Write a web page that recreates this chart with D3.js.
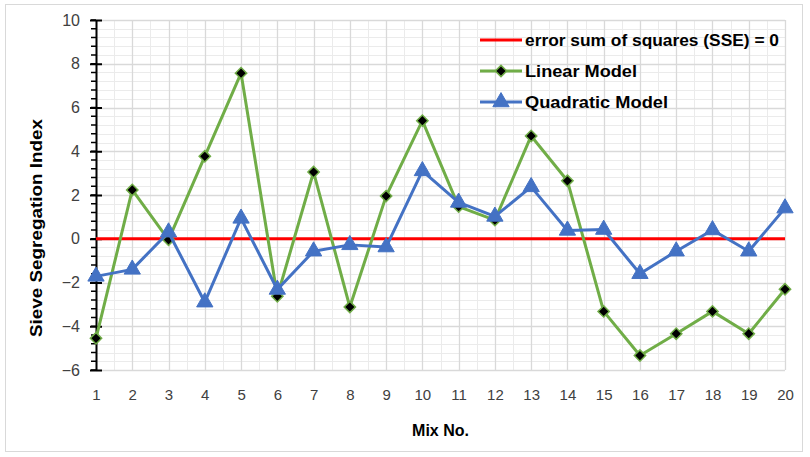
<!DOCTYPE html>
<html>
<head>
<meta charset="utf-8">
<script src="https://cdn.jsdelivr.net/npm/d3@7"></script>
<style>
  html, body { margin: 0; padding: 0; background: #fff; }
  svg { display: block; font-family: "Liberation Sans", Arial, sans-serif; }
</style>
</head>
<body>
<svg id="chart" width="810" height="457"></svg>
<script>
// Mix numbers on the x axis
const mixes = d3.range(1, 21);
// Sieve segregation index errors per mix
const sseValues = mixes.map(() => 0);
const linearValues = [-4.55, 2.23, -0.05, 3.77, 7.57, -2.63, 3.05, -3.12, 1.95, 5.4,
                      1.47, 0.85, 4.7, 2.65, -3.32, -5.34, -4.34, -3.32, -4.34, -2.31];
const quadraticValues = [-1.72, -1.4, 0.3, -2.9, 0.93, -2.32, -0.57, -0.28, -0.38, 3.1,
                         1.66, 1.02, 2.37, 0.38, 0.42, -1.6, -0.57, 0.4, -0.57, 1.4];
const yTicks = [-6, -4, -2, 0, 2, 4, 6, 8, 10];
const seriesNames = ["error sum of squares (SSE) = 0", "Linear Model", "Quadratic Model"];

const svg = d3.select("#chart");
const plotLeft = 96, plotRight = 785, plotTop = 20, plotBottom = 370;

// outer frame
svg.append("rect").attr("x", 5.5).attr("y", 4.5).attr("width", 797).attr("height", 447)
  .attr("fill", "#fff").attr("stroke", "#d9d9d9").attr("stroke-width", 1);

const x = d3.scaleLinear().domain([1, 20]).range([plotLeft, plotRight]);
const y = d3.scaleLinear().domain([-6, 10]).range([plotBottom, plotTop]);

// gridlines: minor first, then major
const grid = svg.append("g");
const minorY = d3.range(-6, 10.001, 0.4).filter(v => Math.abs(v / 2 - Math.round(v / 2)) > 1e-6);
grid.selectAll(".my").data(minorY).join("line")
  .attr("x1", plotLeft).attr("x2", plotRight)
  .attr("y1", d => Math.round(y(d)) + 0.5).attr("y2", d => Math.round(y(d)) + 0.5)
  .attr("stroke", "#ebebeb").attr("stroke-width", 1);
const minorX = d3.range(1.5, 20, 1);
grid.selectAll(".mx").data(minorX).join("line")
  .attr("y1", plotTop).attr("y2", plotBottom)
  .attr("x1", d => Math.round(x(d)) + 0.5).attr("x2", d => Math.round(x(d)) + 0.5)
  .attr("stroke", "#ebebeb").attr("stroke-width", 1);
grid.selectAll(".gy").data(yTicks).join("line")
  .attr("x1", plotLeft).attr("x2", plotRight)
  .attr("y1", d => Math.round(y(d)) + 0.5).attr("y2", d => Math.round(y(d)) + 0.5)
  .attr("stroke", "#d9d9d9").attr("stroke-width", 1.3);
grid.selectAll(".gx").data(mixes).join("line")
  .attr("y1", plotTop).attr("y2", plotBottom)
  .attr("x1", d => Math.round(x(d)) + 0.5).attr("x2", d => Math.round(x(d)) + 0.5)
  .attr("stroke", "#d9d9d9").attr("stroke-width", 1.3);

// y axis with minor ticks
const minorTicks = d3.range(-6, 10.001, 0.4);
const yAxisG = svg.append("g");
yAxisG.selectAll(".mt").data(minorTicks).join("line")
  .attr("x1", plotLeft - 5).attr("x2", plotLeft)
  .attr("y1", d => y(d)).attr("y2", d => y(d))
  .attr("stroke", "#000").attr("stroke-width", 1.5);
yAxisG.append("g").attr("transform", `translate(${plotLeft},0)`)
  .call(d3.axisLeft(y).tickValues(yTicks).tickSize(6).tickPadding(10).tickSizeOuter(0))
  .call(g => g.select(".domain").attr("stroke", "#000").attr("stroke-width", 2))
  .call(g => g.selectAll(".tick line").attr("x2", 6).attr("x1", -6)
    .attr("stroke", "#000").attr("stroke-width", 2))
  .call(g => g.selectAll(".tick text").attr("font-size", 16).attr("fill", "#404040")
    .attr("font-family", "Liberation Sans, Arial, sans-serif"));

// x axis labels
svg.append("g").attr("transform", `translate(0,${plotBottom})`)
  .call(d3.axisBottom(x).tickValues(mixes).tickFormat(d3.format("d")).tickSize(0).tickPadding(19))
  .call(g => g.select(".domain").remove())
  .call(g => g.selectAll(".tick text").attr("font-size", 15).attr("fill", "#404040")
    .attr("font-family", "Liberation Sans, Arial, sans-serif"));

// axis titles
svg.append("text").attr("x", (plotLeft + plotRight) / 2).attr("y", 436)
  .attr("text-anchor", "middle").attr("font-size", 16).attr("font-weight", "bold")
  .attr("fill", "#000").text("Mix No.");
svg.append("text").attr("transform", `translate(42,228) rotate(-90)`)
  .attr("text-anchor", "middle").attr("font-size", 17).attr("font-weight", "bold")
  .attr("fill", "#000").attr("textLength", 218).attr("lengthAdjust", "spacingAndGlyphs")
  .text("Sieve Segregation Index");

const line = d3.line().x((d, i) => x(mixes[i])).y(d => y(d));
const colors = ["#ff0000", "#70ad47", "#4472c4"];
const triangle = d3.symbol().type(d3.symbolTriangle).size(115);
const diamondShape = d3.symbol().type(d3.symbolSquare).size(64);

// SSE reference line
svg.append("path").datum(sseValues).attr("d", line)
  .attr("fill", "none").attr("stroke", colors[0]).attr("stroke-width", 3);

// linear model
svg.append("path").datum(linearValues).attr("d", line)
  .attr("fill", "none").attr("stroke", colors[1]).attr("stroke-width", 3)
  .attr("stroke-linejoin", "round");
svg.append("g").selectAll("path").data(linearValues).join("path")
  .attr("transform", (d, i) => `translate(${x(mixes[i])},${y(d)}) rotate(45)`)
  .attr("d", diamondShape)
  .attr("fill", "#000").attr("stroke", colors[1]).attr("stroke-width", 1.5);

// quadratic model
svg.append("path").datum(quadraticValues).attr("d", line)
  .attr("fill", "none").attr("stroke", colors[2]).attr("stroke-width", 3)
  .attr("stroke-linejoin", "round");
svg.append("g").selectAll("path").data(quadraticValues).join("path")
  .attr("transform", (d, i) => `translate(${x(mixes[i])},${y(d)})`)
  .attr("d", triangle)
  .attr("fill", colors[2]).attr("stroke", colors[2]).attr("stroke-width", 1);

// legend
const legend = svg.append("g");
const legY = [40, 71, 102];
const legWidths = [254, 112, 143];
seriesNames.forEach((name, i) => {
  const gy = legY[i];
  legend.append("line").attr("x1", 480).attr("x2", 522).attr("y1", gy).attr("y2", gy)
    .attr("stroke", colors[i]).attr("stroke-width", 3);
  if (i === 1) {
    legend.append("path").attr("transform", `translate(501,${gy}) rotate(45)`)
      .attr("d", diamondShape)
      .attr("fill", "#000").attr("stroke", colors[1]).attr("stroke-width", 1.5);
  } else if (i === 2) {
    legend.append("path").attr("transform", `translate(501,${gy})`)
      .attr("d", triangle).attr("fill", colors[2]).attr("stroke", colors[2]);
  }
  legend.append("text").attr("x", 525).attr("y", gy).attr("dy", "0.35em")
    .attr("font-size", 17).attr("font-weight", "bold").attr("fill", "#000")
    .attr("textLength", legWidths[i]).attr("lengthAdjust", "spacingAndGlyphs")
    .text(name);
});
</script>
</body>
</html>
